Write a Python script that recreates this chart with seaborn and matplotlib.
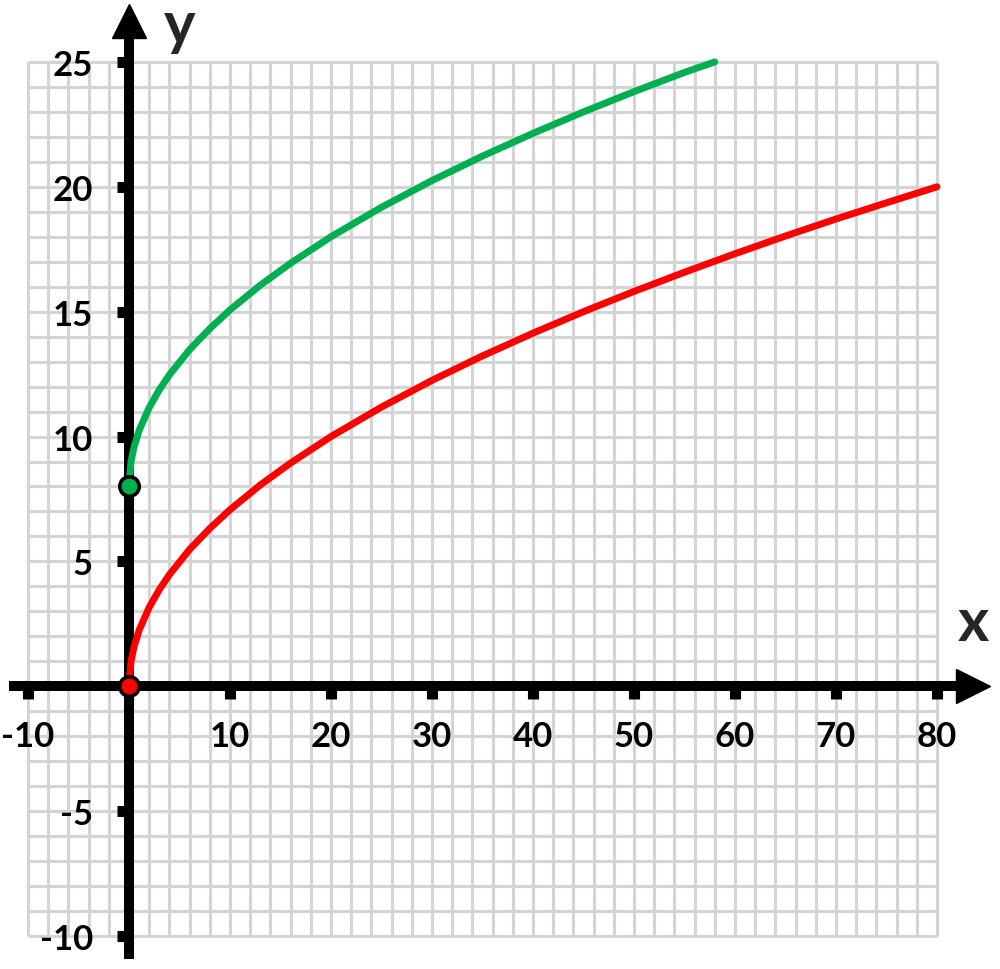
import matplotlib.pyplot as plt
import numpy as np
import seaborn as sns

# values
red_x = [0, 0.2, 0.5, 1, 2, 3, 4, 6, 8, 10, 13, 16, 20, 25, 30, 35, 40, 45, 50, 55, 60, 65, 70, 75, 80]
red_y = [0, 1.0, 1.58, 2.24, 3.16, 3.87, 4.47, 5.48, 6.32, 7.07, 8.06, 8.94, 10.0, 11.18, 12.25,
         13.23, 14.14, 15.0, 15.81, 16.58, 17.32, 18.03, 18.71, 19.36, 20.0]
green_x = [0, 0.2, 0.5, 1, 2, 3, 4, 6, 8, 10, 13, 16, 20, 25, 30, 35, 40, 45, 50, 55, 58]
green_y = [8.0, 9.0, 9.58, 10.24, 11.16, 11.87, 12.47, 13.48, 14.32, 15.07, 16.06, 16.94, 18.0,
           19.18, 20.25, 21.23, 22.14, 23.0, 23.81, 24.58, 25.0]
start_points_x = [0, 0]
start_points_y = [0, 8]

x_ticks = [-10, 10, 20, 30, 40, 50, 60, 70, 80]
y_ticks = [-10, -5, 5, 10, 15, 20, 25]

sns.set_style("white")
plt.rcParams["font.family"] = ["Lato", "DejaVu Sans"]
plt.rcParams["axes.unicode_minus"] = False

fig = plt.figure(figsize=(10, 9.7), dpi=100)
ax = fig.add_axes([0, 0, 1, 1])
ax.set_xlim(-12.77, 86.24)
ax.set_ylim(-11.32, 27.52)

# graph paper grid, only inside the plotted range
ax.vlines(np.arange(-10, 81, 2), -10, 25, color="#d4d4d4", lw=2.2, zorder=0)
ax.hlines(np.arange(-10, 26, 1), -10, 80, color="#d4d4d4", lw=2.2, zorder=0)

sns.lineplot(x=red_x, y=red_y, color="#ff0000", lw=5, ax=ax, sort=False, zorder=3)
sns.lineplot(x=green_x, y=green_y, color="#00b050", lw=5, ax=ax, sort=False, zorder=3)

# axes through the origin with arrow heads
for side in ["top", "right"]:
    ax.spines[side].set_visible(False)
ax.spines["left"].set_position(("data", 0))
ax.spines["bottom"].set_position(("data", 0))
for side in ["left", "bottom"]:
    ax.spines[side].set_linewidth(7.2)
    ax.spines[side].set_color("black")
    ax.spines[side].set_zorder(2.5)
ax.spines["left"].set_bounds(-10.73, 26.65)
ax.spines["bottom"].set_bounds(-11.4, 83.6)
ax.plot([0], [26.65], marker="^", ms=24, color="black", clip_on=False, zorder=4)
ax.plot([83.6], [0], marker=">", ms=24, color="black", clip_on=False, zorder=4)

ax.set_xticks(x_ticks)
ax.set_yticks(y_ticks)
ax.tick_params(axis="both", direction="out", length=9, width=8, color="black",
               labelsize=25, labelcolor="black", bottom=True, left=True)
ax.tick_params(axis="x", pad=15)
ax.tick_params(axis="y", pad=17)
for lab in ax.get_xticklabels() + ax.get_yticklabels():
    lab.set_fontweight("bold")

ax.plot(start_points_x[:1], start_points_y[:1], "o", ms=14, mfc="#ff0000", mec="black", mew=2.6, zorder=5)
ax.plot(start_points_x[1:], start_points_y[1:], "o", ms=14, mfc="#00b050", mec="black", mew=2.6, zorder=5)

ax.text(5.0, 25.75, "y", fontsize=43, fontweight="bold", ha="center", va="baseline")
ax.text(83.6, 1.85, "x", fontsize=43, fontweight="bold", ha="center", va="baseline")

fig.savefig("out.png", dpi=100)
